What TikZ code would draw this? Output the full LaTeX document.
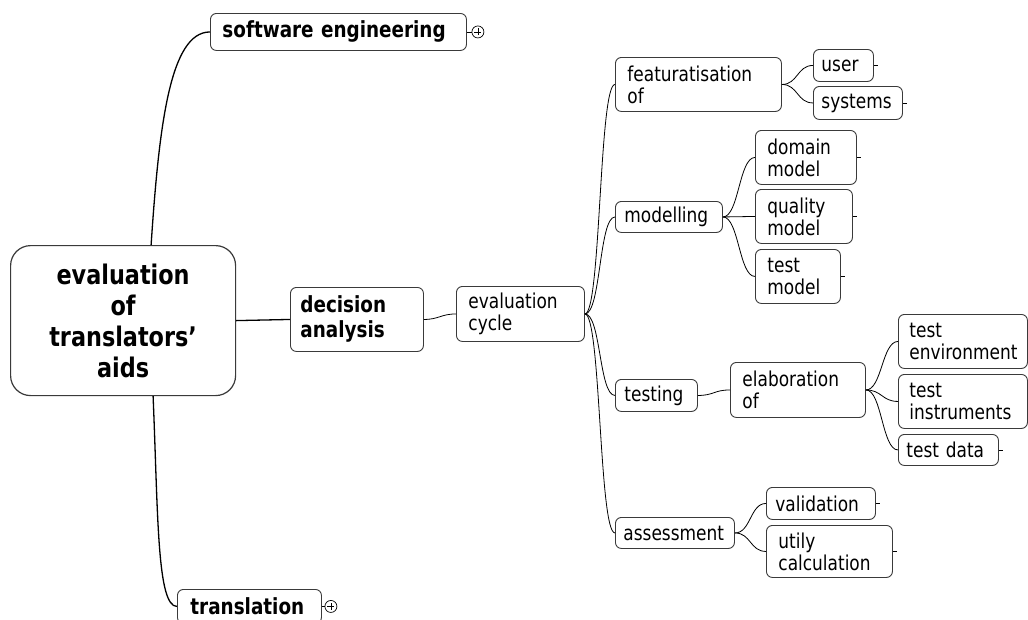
\documentclass[tikz,border=0pt]{standalone}
\usepackage{fontspec}
\setmainfont{DejaVu Sans Condensed}[FakeStretch=0.92]
\definecolor{boxgray}{HTML}{3A3A3A}
\begin{document}
\begin{tikzpicture}[x=1pt,y=-1pt,
  box/.style={draw=boxgray, line width=0.9pt, rounded corners=6pt, anchor=north west,
    align=left, inner ysep=0pt, font=\fontsize{20.5}{22}\selectfont},
  bbox/.style={box, font=\bfseries\fontsize{22.2}{25}\selectfont},
  link/.style={line width=0.8pt},
  mainlink/.style={line width=1.3pt},
  plus/.style={circle, draw, line width=0.7pt, minimum size=12pt, inner sep=0pt}]
\useasboundingbox (0,0) rectangle (1028,619);

% central topic
\node[box, line width=1.2pt, rounded corners=20pt, align=center, text width=205pt, inner xsep=10pt,
      minimum height=150pt, font=\bfseries\fontsize{27}{31}\selectfont]
  (root) at (10,245) {evaluation\\of\\translators’\\aids};

% main branches
\node[bbox, text width=232pt, inner xsep=12pt, minimum height=37pt] (sw) at (210,13) {software engineering};
\node[bbox, text width=113pt, inner xsep=10pt, minimum height=64pt] (da) at (290,287) {decision\\analysis};
\node[bbox, text width=118pt, inner xsep=13pt, minimum height=34pt] (tr) at (177,589) {translation};

% decision analysis subtree
\node[box, text width=104pt, inner xsep=12pt, minimum height=55pt] (ec) at (456,286) {evaluation\\cycle};
\node[box, text width=142pt, inner xsep=12pt, minimum height=54pt] (feat) at (615,57) {featuratisation\\of};
\node[box, text width=44pt, inner xsep=8pt, minimum height=32pt] (user) at (813,49) {user};
\node[box, text width=73pt, inner xsep=8pt, minimum height=33pt] (sys) at (813,86) {systems};
\node[box, text width=89pt, inner xsep=9pt, minimum height=31pt] (mod) at (615,201) {modelling};
\node[box, text width=77pt, inner xsep=12pt, minimum height=54pt] (dom) at (755,130) {domain\\model};
\node[box, text width=73pt, inner xsep=12pt, minimum height=54pt] (qual) at (755,189) {quality\\model};
\node[box, text width=61pt, inner xsep=12pt, minimum height=54pt] (tm) at (755,249) {test\\model};
\node[box, text width=64pt, inner xsep=9pt, minimum height=32pt] (test) at (615,379) {testing};
\node[box, text width=111pt, inner xsep=12pt, minimum height=55pt] (elab) at (730,362) {elaboration\\of};
\node[box, text width=107pt, inner xsep=11pt, minimum height=54pt] (tenv) at (898,314) {test\\environment};
\node[box, text width=107pt, inner xsep=11pt, minimum height=54pt] (tins) at (898,374) {test\\instruments};
\node[box, text width=84pt, inner xsep=8pt, minimum height=31pt] (tdata) at (898,434) {test data};
\node[box, text width=103pt, inner xsep=8pt, minimum height=31pt] (ass) at (615,517) {assessment};
\node[box, text width=91pt, inner xsep=9pt, minimum height=32pt] (val) at (766,487) {validation};
\node[box, text width=102pt, inner xsep=12pt, minimum height=52pt] (util) at (766,525) {utily\\calculation};

% collapse markers
\node[plus] (swp) at ([xshift=11pt]sw.east) {};
\node[plus] (trp) at ([xshift=9pt]tr.east) {};
\foreach \p in {swp,trp}{
  \draw[line width=0.6pt] ([xshift=-3.5pt]\p.center) -- ([xshift=3.5pt]\p.center);
  \draw[line width=0.6pt] ([yshift=-3.5pt]\p.center) -- ([yshift=3.5pt]\p.center);
}
\draw[link] (sw.east) -- (swp.west);
\draw[link] (tr.east) -- (trp.west);

% connectors from the central topic
\coordinate (rtop) at ([xshift=28pt]root.north);
\coordinate (rbot) at ([xshift=30pt]root.south);
\draw[mainlink] (rtop) .. controls +(8,-120) and +(-40,0) .. (sw.west);
\draw[mainlink] (rbot) .. controls +(5,120) and +(-20,0) .. (tr.west);
\draw[mainlink] (root.east) -- (da.west);

% tree connectors
\draw[link] (da.east) .. controls +(15,0) and +(-15,0) .. (ec.west);
\foreach \c in {feat,mod,test,ass}
  \draw[link] (ec.east) .. controls +(16,0) and +(-16,0) .. (\c.west);
\foreach \c in {user,sys}
  \draw[link] (feat.east) .. controls +(16,0) and +(-16,0) .. (\c.west);
\foreach \c in {dom,qual,tm}
  \draw[link] (mod.east) .. controls +(16,0) and +(-16,0) .. (\c.west);
\draw[link] (test.east) .. controls +(16,0) and +(-16,0) .. (elab.west);
\foreach \c in {tenv,tins,tdata}
  \draw[link] (elab.east) .. controls +(16,0) and +(-16,0) .. (\c.west);
\foreach \c in {val,util}
  \draw[link] (ass.east) .. controls +(16,0) and +(-16,0) .. (\c.west);

% leaf stubs
\foreach \c in {user,sys,dom,qual,tm,tdata,val,util}
  \draw[link] (\c.east) -- ++(4,0);
\end{tikzpicture}
\end{document}
